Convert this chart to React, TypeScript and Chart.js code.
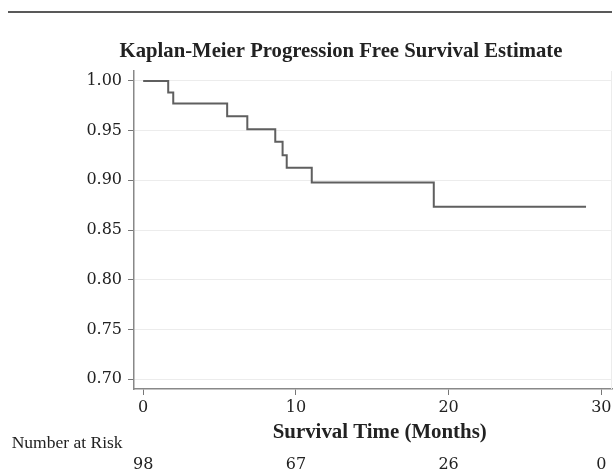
import React, { useEffect, useRef } from "react";
import { Chart, registerables } from "chart.js";

Chart.register(...registerables);

const TITLE = "Kaplan-Meier Progression Free Survival Estimate";
const X_TITLE = "Survival Time (Months)";
const RISK_LABEL = "Number at Risk";

// Kaplan-Meier step curve (time in months, survival probability)
const times = [0, 1.64, 1.97, 5.5, 6.82, 8.65, 9.13, 9.4, 11.04, 19.03, 29.0];
const survival = [1.0, 0.9883, 0.9773, 0.9645, 0.9515, 0.9387, 0.9253, 0.9126, 0.8979, 0.8734, 0.8734];

const xTicks = [0, 10, 20, 30];
const yTicks = [0.7, 0.75, 0.8, 0.85, 0.9, 0.95, 1.0];

const riskTimes = [0, 10, 20, 30];
const atRisk = [98, 67, 26, 0];

const NUM_FONT = "'DejaVu Serif', serif";
const TEXT_FONT = "'Liberation Serif', serif";

function fitFont(ctx: CanvasRenderingContext2D, text: string, weight: string, family: string, target: number) {
  ctx.font = `${weight} 20px ${family}`;
  const w = ctx.measureText(text).width;
  const size = (20 * target) / w;
  ctx.font = `${weight} ${size.toFixed(2)}px ${family}`;
}

export default function App() {
  const ref = useRef<HTMLCanvasElement | null>(null);

  useEffect(() => {
    if (!ref.current) return;
    const extras = {
      id: "kmExtras",
      afterDraw(chart: any) {
        const ctx = chart.ctx as CanvasRenderingContext2D;
        const area = chart.chartArea;
        const xs = chart.scales.x;
        ctx.save();
        // top rule
        ctx.strokeStyle = "#222";
        ctx.lineWidth = 1.5;
        ctx.beginPath();
        ctx.moveTo(8, 12);
        ctx.lineTo(612, 12);
        ctx.stroke();
        // right border of plot
        ctx.strokeStyle = "#ececec";
        ctx.lineWidth = 1;
        ctx.beginPath();
        ctx.moveTo(area.right - 0.5, area.top);
        ctx.lineTo(area.right - 0.5, area.bottom);
        ctx.stroke();
        // titles
        ctx.fillStyle = "#222";
        ctx.textBaseline = "middle";
        ctx.textAlign = "center";
        fitFont(ctx, TITLE, "bold", TEXT_FONT, 443);
        ctx.fillText(TITLE, 341, 52);
        fitFont(ctx, X_TITLE, "bold", TEXT_FONT, 214);
        ctx.fillText(X_TITLE, 379.7, 433);
        // number at risk
        ctx.textAlign = "left";
        fitFont(ctx, RISK_LABEL, "normal", TEXT_FONT, 111);
        ctx.fillText(RISK_LABEL, 11.7, 443);
        ctx.textAlign = "center";
        ctx.font = `16px ${NUM_FONT}`;
        riskTimes.forEach((t, i) => {
          ctx.fillText(String(atRisk[i]), xs.getPixelForValue(t), 465);
        });
        ctx.restore();
      },
    };

    const chart = new Chart(ref.current, {
      type: "line",
      data: {
        datasets: [
          {
            data: times.map((t, i) => ({ x: t, y: survival[i] })),
            borderColor: "#5f5f5f",
            borderWidth: 2,
            stepped: true,
            pointRadius: 0,
            fill: false,
          },
        ],
      },
      options: {
        responsive: false,
        animation: false,
        layout: { padding: { top: 71, left: 0, right: 4, bottom: 0 } },
        plugins: { legend: { display: false }, tooltip: { enabled: false }, title: { display: false } },
        scales: {
          x: {
            type: "linear",
            min: -0.6,
            max: 30.7,
            afterBuildTicks: (s: any) => {
              s.ticks = xTicks.map((v) => ({ value: v }));
            },
            afterFit: (s: any) => {
              s.height = 82;
            },
            ticks: {
              font: { family: NUM_FONT, size: 16 },
              color: "#222",
              padding: 3,
              maxRotation: 0,
              autoSkip: false,
              callback: (v: any) => String(v),
            },
            grid: { drawOnChartArea: false, tickLength: 6, tickColor: "#777", tickWidth: 1 },
            border: { color: "#888", width: 1.5 },
          },
          y: {
            type: "linear",
            min: 0.69,
            max: 1.01,
            afterBuildTicks: (s: any) => {
              s.ticks = yTicks.map((v) => ({ value: v }));
            },
            afterFit: (s: any) => {
              s.width = 134;
            },
            ticks: {
              font: { family: NUM_FONT, size: 16 },
              color: "#222",
              padding: 6,
              autoSkip: false,
              callback: (v: any) => Number(v).toFixed(2),
            },
            grid: { color: "#ececec", lineWidth: 1, tickLength: 6, tickColor: "#777", tickWidth: 1 },
            border: { color: "#888", width: 1.5 },
          },
        },
      },
      plugins: [extras],
    });
    return () => chart.destroy();
  }, []);

  return (
    <div style={{ position: "absolute", left: 0, top: 0, width: 616, height: 471, background: "#fff" }}>
      <canvas ref={ref} width={616} height={471} style={{ width: 616, height: 471, display: "block" }} />
    </div>
  );
}
